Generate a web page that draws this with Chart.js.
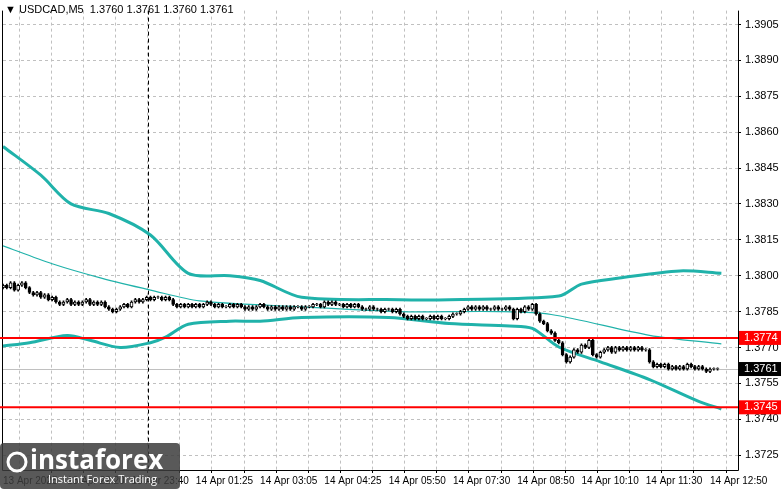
<!DOCTYPE html>
<html>
<head>
<meta charset="utf-8">
<script src="https://cdn.jsdelivr.net/npm/chart.js@4"></script>
<style>
  html, body { margin: 0; padding: 0; background: #fff; }
  #wrap { width: 781px; height: 489px; position: relative; }
</style>
</head>
<body>
<div id="wrap"><canvas id="c"></canvas></div>
<script>
// closes per 5 min bar
const closes = [
  1.3796,1.3795,1.3797,1.3794,1.3796,1.3797,1.3795,1.3793,1.3792,1.3793,
  1.3791,1.3792,1.3790,1.3791,1.3789,1.3788,1.3789,1.3790,1.3788,
  1.3789,1.3788,1.3789,1.3790,1.3788,1.3789,1.3788,1.3789,1.3787,1.3786,1.3785,1.3786,
  1.3787,1.3788,1.3787,1.3789,1.3790,1.3789,1.3790,1.3791,1.3790,1.3791,
  1.3791,1.3790,1.3791,1.3790,1.3788,1.3787,1.3788,1.3787,1.3788,1.3787,
  1.3788,1.3787,1.3788,1.3789,1.3788,1.3787,1.3788,1.3787,1.3787,1.3788,
  1.3787,1.3788,1.3787,1.3786,1.3787,1.3786,1.3787,1.3788,1.3787,1.3786,
  1.3787,1.3786,1.3787,1.3786,1.3787,1.3786,1.3787,1.3787,1.3786,1.3787,
  1.3787,1.3788,1.3788,1.3787,1.3789,1.3788,1.3789,1.3788,1.3788,1.3787,
  1.3788,1.3787,1.3788,1.3787,1.3786,1.3786,1.3787,1.3786,1.3786,1.3785,
  1.3786,1.3786,1.3785,1.3786,1.3784,1.3783,1.3782,1.3783,1.3782,1.3783,
  1.3782,1.3782,1.3783,1.3782,1.3783,1.3782,1.3782,1.3783,1.3784,1.3784,
  1.3785,1.3786,1.3787,1.3786,1.3787,1.3786,1.3787,1.3786,1.3786,1.3787,
  1.3786,1.3786,1.3787,1.3786,1.3782,1.3786,1.3785,1.3787,1.3786,1.3788,
  1.3784,1.3781,1.3780,1.3777,1.3776,1.3773,1.3772,1.3767,1.3764,1.3766,
  1.3769,1.3768,1.3771,1.3770,1.3773,1.3767,1.3766,1.3768,1.3769,1.3770,
  1.3768,1.3770,1.3769,1.3770,1.3769,1.3770,1.3769,1.3770,1.3769,1.3769,
  1.3764,1.3762,1.3763,1.3762,1.3763,1.3761,1.3762,1.3761,1.3762,1.3761,
  1.3763,1.3762,1.3761,1.3762,1.3761,1.3760,1.3761,1.3761,1.3761
];
const firstOpen = 1.3795;
const wick = 0.00005;

// bands: [bar index, price]
const upperBand = [[0,1.3854],[10,1.3842],[18,1.3830],[28,1.3826],[39,1.3817],[49,1.3801],[60,1.3800],[68,1.3798],[79,1.3791],[105,1.3790],[111,1.37899],[118,1.3790],[147,1.37915],[153,1.37965],[163,1.3799],[179,1.3802],[190,1.3801]];
const middleLine = [[0,1.38125],[13,1.3805],[26,1.3799],[39,1.3794],[52,1.37895],[79,1.3787],[105,1.3785],[131,1.3785],[145,1.37838],[171,1.37751],[190,1.37715]];
const lowerBand = [[0,1.37706],[7,1.3772],[17,1.3775],[23,1.3773],[31,1.3770],[39,1.3772],[43,1.37743],[49,1.37797],[60,1.3781],[68,1.3781],[79,1.37825],[102,1.37825],[118,1.3780],[134,1.3779],[140,1.3778],[147,1.37702],[158,1.3764],[171,1.37566],[184,1.37475],[190,1.37443]];

const supportLevels = [1.3774, 1.3745];
const lastPrice = 1.3761;
const cursorBar = 38.4;

const yMin = 1.37188, yMax = 1.39108;
const yTicks = [1.3905,1.3890,1.3875,1.3860,1.3845,1.3830,1.3815,1.3800,1.3785,1.3770,1.3755,1.3740,1.3725];
const xStep = 8.5;
const xLabels = ["13 Apr 2025", "", "13 Apr 22:20", "", "13 Apr 23:40", "", "14 Apr 01:25", "", "14 Apr 03:05", "", "14 Apr 04:25", "", "14 Apr 05:50", "", "14 Apr 07:30", "", "14 Apr 08:50", "", "14 Apr 10:10", "", "14 Apr 11:30", "", "14 Apr 12:50"];

const bodies = [], wicks = [], fills = [];
closes.forEach((c, i) => {
  const o = i === 0 ? firstOpen : closes[i - 1];
  bodies.push({ x: i, y: [o, c === o ? c + 0.000015 : c] });
  wicks.push({ x: i, y: [Math.min(o, c) - wick, Math.max(o, c) + wick] });
  fills.push(c >= o ? '#ffffff' : '#000000');
});

const teal = '#20b2aa';
const pts = a => a.map(p => ({ x: p[0], y: p[1] }));

const overlay = {
  id: 'overlay',
  beforeDatasetsDraw(chart) {
    const { ctx, chartArea: a, scales: { x, y } } = chart;
    ctx.save();
    ctx.strokeStyle = '#c0c0c0'; ctx.lineWidth = 1;
    ctx.beginPath(); const yl = Math.round(y.getPixelForValue(lastPrice)) + 0.5;
    ctx.moveTo(a.left, yl); ctx.lineTo(a.right, yl); ctx.stroke();
    ctx.strokeStyle = '#000'; ctx.setLineDash([4, 3]);
    const xc = Math.round(x.getPixelForValue(cursorBar)) + 0.5;
    ctx.beginPath(); ctx.moveTo(xc, a.top); ctx.lineTo(xc, a.bottom); ctx.stroke();
    ctx.setLineDash([]);
    // axis lines
    ctx.beginPath();
    ctx.moveTo(a.left - 0.5, a.top); ctx.lineTo(a.left - 0.5, a.bottom + 0.5);
    ctx.lineTo(a.right + 0.5, a.bottom + 0.5); ctx.lineTo(a.right + 0.5, a.top);
    ctx.stroke();
    ctx.restore();
  },
  afterDatasetsDraw(chart) {
    const { ctx, chartArea: a, scales: { y } } = chart;
    ctx.save();
    ctx.strokeStyle = '#ff0000'; ctx.lineWidth = 2;
    supportLevels.forEach(v => {
      const py = y.getPixelForValue(v);
      ctx.beginPath(); ctx.moveTo(0, py); ctx.lineTo(a.right, py); ctx.stroke();
    });
    // axis price tags
    ctx.font = '11px "Liberation Sans"'; ctx.textBaseline = 'middle';
    const tag = (v, bg) => {
      const py = y.getPixelForValue(v);
      ctx.fillStyle = bg; ctx.fillRect(a.right + 1, py - 7, 42, 14);
      ctx.fillStyle = '#fff'; ctx.fillText(v.toFixed(4), a.right + 6, py);
    };
    supportLevels.forEach(v => tag(v, '#ff0000'));
    tag(lastPrice, '#000000');
    // header
    ctx.fillStyle = '#000'; ctx.font = '11px "Liberation Sans"';
    ctx.fillText('▼ USDCAD,M5  1.3760 1.3761 1.3760 1.3761', 5, 10);
    // watermark
    ctx.fillStyle = 'rgba(60,60,60,0.85)';
    ctx.beginPath(); ctx.roundRect(0, 443, 180, 46, 4); ctx.fill();
    ctx.fillStyle = '#fff'; ctx.font = 'bold 26px "Open Sans"';
    ctx.fillText('instaforex', 30, 462);
    ctx.font = '11px "Open Sans"';
    ctx.fillText('Instant Forex Trading', 48, 480);
    ctx.beginPath(); ctx.arc(17, 462, 9, 0, Math.PI * 2); ctx.strokeStyle = '#fff'; ctx.lineWidth = 3; ctx.stroke();
    ctx.restore();
  }
};

const gridCommon = { color: '#c0c0c0', tickLength: 3, tickColor: '#000', tickBorderDash: [] };

new Chart(document.getElementById('c'), {
  data: {
    datasets: [
      { type: 'line', data: pts(upperBand), borderColor: teal, borderWidth: 3, pointRadius: 0, tension: 0.3, order: 3 },
      { type: 'line', data: pts(middleLine), borderColor: teal, borderWidth: 1.2, pointRadius: 0, tension: 0.3, order: 3 },
      { type: 'line', data: pts(lowerBand), borderColor: teal, borderWidth: 3, pointRadius: 0, tension: 0.3, order: 3 },
      { type: 'bar', data: wicks, backgroundColor: '#000', barThickness: 1, grouped: false, order: 2 },
      { type: 'bar', data: bodies, backgroundColor: fills, borderColor: '#000', borderWidth: 1, borderSkipped: false, barThickness: 3, grouped: false, order: 1 }
    ]
  },
  options: {
    responsive: true, maintainAspectRatio: false, animation: false,
    layout: { padding: { left: 3, top: 3, right: 0, bottom: 0 } },
    plugins: { legend: { display: false }, tooltip: { enabled: false } },
    scales: {
      x: {
        type: 'linear', min: 0, max: 194.4, offset: false,
        afterBuildTicks: s => { s.ticks = xLabels.map((_, i) => ({ value: i * xStep })); },
        afterFit: s => { s.height = 19; },
        grid: gridCommon,
        border: { display: false, dash: [3, 3] },
        ticks: { autoSkip: false, maxRotation: 0, align: 'start', padding: 2, color: '#000', font: { family: 'Liberation Sans', size: 10 },
          callback: (v, i) => xLabels[i] }
      },
      y: {
        position: 'right', min: yMin, max: yMax,
        afterBuildTicks: s => { s.ticks = yTicks.map(v => ({ value: v })); },
        afterFit: s => { s.width = 43; },
        grid: gridCommon,
        border: { display: false, dash: [3, 3] },
        ticks: { padding: 4, color: '#000', font: { family: 'Liberation Sans', size: 11 }, callback: v => v.toFixed(4) }
      }
    }
  },
  plugins: [overlay]
});
</script>
</body>
</html>
